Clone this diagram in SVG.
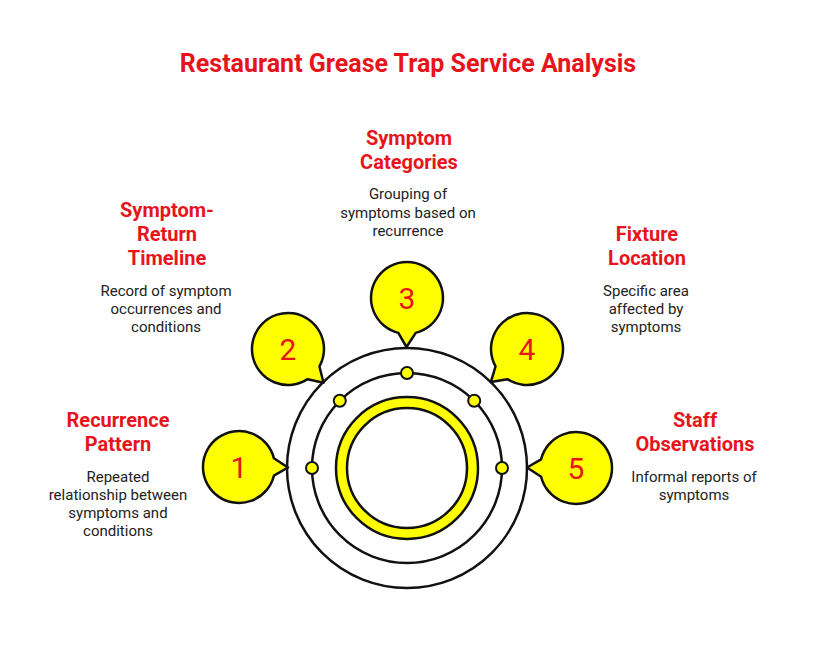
<svg xmlns="http://www.w3.org/2000/svg" width="816" height="648" viewBox="0 0 816 648">
<style>
.title{font-family:Roboto,"Liberation Sans",sans-serif;font-weight:700;font-size:25px;fill:#e8141c;text-anchor:middle}
.head{font-family:Roboto,"Liberation Sans",sans-serif;font-weight:700;font-size:20px;fill:#e8141c;text-anchor:middle}
.desc{font-family:Roboto,"Liberation Sans",sans-serif;font-size:15px;fill:#222;text-anchor:middle}
.num{font-family:Roboto,"Liberation Sans",sans-serif;font-size:30px;fill:#e8141c;text-anchor:middle}
.ring{fill:none;stroke:#111;stroke-width:2.5}
.bub{fill:#ffff00;stroke:#111;stroke-width:2.5;stroke-linejoin:round}
.dot{fill:#ffff00;stroke:#111;stroke-width:2}
</style>
<defs>
<path id="bubble" d="M34.9,-8.7 A36,36 0 1 0 34.9,8.7 L49,0.5 Z"/>
</defs>
<rect width="816" height="648" fill="#fff"/>
<text class="title" x="408" y="72">Restaurant Grease Trap Service Analysis</text>

<g id="core">
<circle class="ring" cx="407" cy="468" r="120"/>
<circle class="ring" cx="407" cy="468" r="95"/>
<circle cx="407" cy="468" r="65.5" fill="none" stroke="#ffff00" stroke-width="11"/>
<circle class="ring" cx="407" cy="468" r="71"/>
<circle class="ring" cx="407" cy="468" r="60"/>
<circle class="dot" cx="312" cy="468" r="6"/>
<circle class="dot" cx="339.8" cy="400.8" r="6"/>
<circle class="dot" cx="407" cy="373" r="6"/>
<circle class="dot" cx="474.2" cy="400.8" r="6"/>
<circle class="dot" cx="502" cy="468" r="6"/>
</g>

<g id="node1">
<use href="#bubble" class="bub" transform="translate(239,467)"/>
<text class="num" x="239" y="478">1</text>
<text class="head" x="118" y="427">Recurrence</text>
<text class="head" x="118" y="451">Pattern</text>
<text class="desc" x="118" y="482">Repeated</text>
<text class="desc" x="118" y="500">relationship between</text>
<text class="desc" x="118" y="518">symptoms and</text>
<text class="desc" x="118" y="536">conditions</text>
</g>

<g id="node2">
<use href="#bubble" class="bub" transform="translate(288,349) rotate(43)"/>
<text class="num" x="288" y="360">2</text>
<text class="head" x="167" y="217">Symptom-</text>
<text class="head" x="167" y="241">Return</text>
<text class="head" x="167" y="265">Timeline</text>
<text class="desc" x="166" y="296">Record of symptom</text>
<text class="desc" x="166" y="314">occurrences and</text>
<text class="desc" x="166" y="332">conditions</text>
</g>

<g id="node3">
<use href="#bubble" class="bub" transform="translate(407,298) rotate(90)"/>
<text class="num" x="407" y="309">3</text>
<text class="head" x="409" y="145">Symptom</text>
<text class="head" x="409" y="169">Categories</text>
<text class="desc" x="408" y="199">Grouping of</text>
<text class="desc" x="408" y="218">symptoms based on</text>
<text class="desc" x="408" y="236">recurrence</text>
</g>

<g id="node4">
<use href="#bubble" class="bub" transform="translate(527,349) rotate(137)"/>
<text class="num" x="527" y="360">4</text>
<text class="head" x="647" y="241">Fixture</text>
<text class="head" x="647" y="265">Location</text>
<text class="desc" x="646" y="296">Specific area</text>
<text class="desc" x="646" y="314">affected by</text>
<text class="desc" x="646" y="332">symptoms</text>
</g>

<g id="node5">
<use href="#bubble" class="bub" transform="translate(576,468) rotate(180)"/>
<text class="num" x="576" y="479">5</text>
<text class="head" x="695" y="427">Staff</text>
<text class="head" x="695" y="451">Observations</text>
<text class="desc" x="694" y="482">Informal reports of</text>
<text class="desc" x="694" y="500">symptoms</text>
</g>
</svg>
